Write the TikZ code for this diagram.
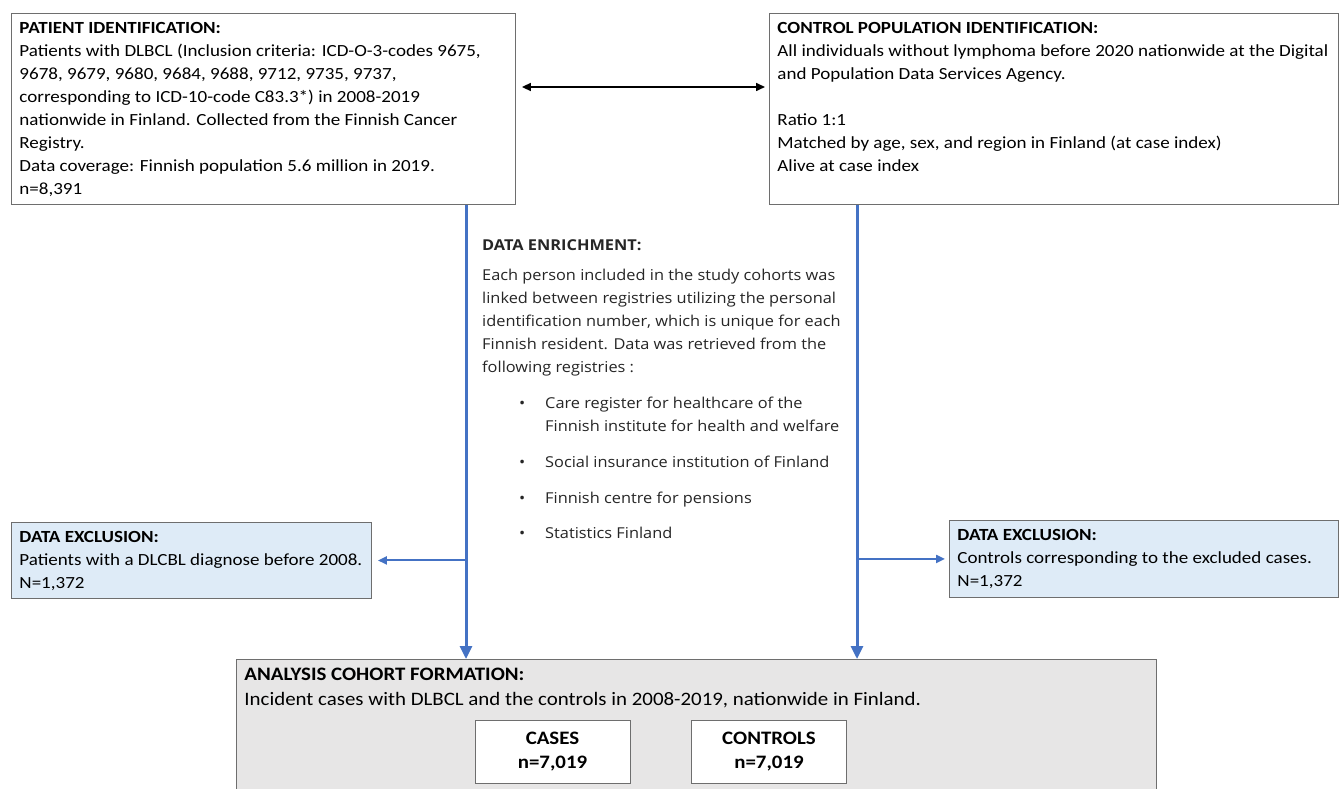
\documentclass[tikz,border=0pt]{standalone}
\usepackage{fontspec}
\setmainfont[FakeStretch=1.12]{Carlito}
\newfontfamily\enrfont[FakeStretch=1.09]{Open Sans}
\newfontfamily\anafont[FakeStretch=1.1]{Carlito}
\usetikzlibrary{arrows.meta}
\definecolor{fblue}{HTML}{4472C4}
\definecolor{exfill}{HTML}{DEEBF7}
\definecolor{anafill}{HTML}{E7E6E6}
\definecolor{bord}{HTML}{6E6E6E}
\begin{document}
\begin{tikzpicture}[x=1pt,y=-1pt,
  box/.style={draw=bord, line width=0.9pt, anchor=north west, inner xsep=8pt, inner ysep=4pt,
    fill=white, font=\fontsize{17}{23}\selectfont},
  exbox/.style={box, fill=exfill},
  anabox/.style={box, fill=anafill, font=\anafont\fontsize{19}{25}\selectfont},
  numbox/.style={draw=bord, line width=0.9pt, fill=white, minimum width=155pt, minimum height=63pt,
    inner sep=0pt, align=center, font=\anafont\bfseries\fontsize{19}{24}\selectfont},
  mainflow/.style={draw=fblue, line width=3pt, -{Triangle[length=13pt,width=12pt]}},
  sideflow/.style={draw=fblue, line width=2pt, -{Triangle[length=9pt,width=8pt]}},
  linkarrow/.style={draw=black, line width=1.6pt, {Triangle[length=9pt,width=8pt]}-{Triangle[length=9pt,width=8pt]}}
]
\useasboundingbox (0,0) rectangle (1339,789);
\fill[white] (0,0) rectangle (1339,789);

\node[box] (pat) at (11,13) {\parbox[c][183pt][t]{488pt}{\raggedright\strut\textbf{PATIENT IDENTIFICATION:}\\
Patients with DLBCL (Inclusion criteria: ICD-O-3-codes 9675,\\
9678, 9679, 9680, 9684, 9688, 9712, 9735, 9737,\\
corresponding to ICD-10-code C83.3*) in 2008-2019\\
nationwide in Finland. Collected from the Finnish Cancer\\
Registry.\\
Data coverage: Finnish population 5.6 million in 2019.\\
n=8,391}};

\node[box] (ctl) at (769,13) {\parbox[c][183pt][t]{553pt}{\raggedright\strut\textbf{CONTROL POPULATION IDENTIFICATION:}\\
All individuals without lymphoma before 2020 nationwide at the Digital\\
and Population Data Services Agency.\\
\mbox{}\\
Ratio 1:1\\
Matched by age, sex, and region in Finland (at case index)\\
Alive at case index}};

\node[anchor=north west, inner sep=0pt, align=left, text=black!85,
  font=\enrfont\fontsize{15}{23}\selectfont] (enr) at (482,234) {\strut\textbf{DATA ENRICHMENT:}\\[7pt]
Each person included in the study cohorts was\\
linked between registries utilizing the personal\\
identification number, which is unique for each\\
Finnish resident. Data was retrieved from the\\
following registries :\\[13pt]
\hspace*{37pt}\makebox[26pt][l]{\textbullet}Care register for healthcare of the\\
\hspace*{63pt}Finnish institute for health and welfare\\[13pt]
\hspace*{37pt}\makebox[26pt][l]{\textbullet}Social insurance institution of Finland\\[13pt]
\hspace*{37pt}\makebox[26pt][l]{\textbullet}Finnish centre for pensions\\[12pt]
\hspace*{37pt}\makebox[26pt][l]{\textbullet}Statistics Finland};

\node[exbox] (exL) at (11,522) {\parbox[c][68pt][t]{344pt}{\raggedright\strut\textbf{DATA EXCLUSION:}\\
Patients with a DLCBL diagnose before 2008.\\
N=1,372}};

\node[exbox] (exR) at (949,520) {\parbox[c][69pt][t]{373pt}{\raggedright\strut\textbf{DATA EXCLUSION:}\\
Controls corresponding to the excluded cases.\\
N=1,372}};

\node[anabox] (ana) at (236,659) {\parbox[c][135pt][t]{904pt}{\raggedright\strut\textbf{ANALYSIS COHORT FORMATION:}\\
Incident cases with DLBCL and the controls in 2008-2019, nationwide in Finland.}};

\node[numbox] (cases) at (552.5,751.5) {CASES\\ n=7,019};
\node[numbox] (ctrls) at (769,751.5) {CONTROLS\\ n=7,019};

\coordinate (xL) at (466,0);
\coordinate (xR) at (857,0);
\coordinate (yA) at (0,87);

\draw[linkarrow] (pat.east |- yA) ++(6,0) -- ([xshift=-4pt]ctl.west |- yA);
\draw[mainflow] (pat.south -| xL) -- (ana.north -| xL);
\draw[mainflow] (ctl.south -| xR) -- (ana.north -| xR);
\draw[sideflow] (exL.east -| xL) -- ([xshift=6pt]exL.east);
\draw[sideflow] (exR.west -| xR) -- ([xshift=-4pt]exR.west);
\end{tikzpicture}
\end{document}
